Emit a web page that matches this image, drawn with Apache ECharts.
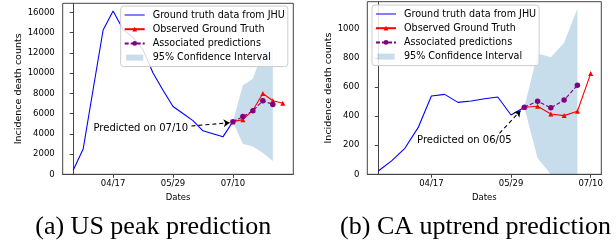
<!DOCTYPE html>
<html><head><meta charset="utf-8">
<script src="https://cdn.jsdelivr.net/npm/echarts@6/dist/echarts.min.js"></script>
<style>html,body{margin:0;padding:0;background:#fff}#c{width:616px;height:246px}</style>
</head><body><div id="c"></div>
<script>
// ---------------- data ----------------
const xTickLabels = ['04/17', '05/29', '07/10'];
const usYTicks = [0, 2000, 4000, 6000, 8000, 10000, 12000, 14000, 16000];
const caYTicks = [0, 200, 400, 600, 800, 1000];

const usTruthDates = ['03/20','03/27','04/03','04/10','04/17','04/24','05/01','05/08','05/15','05/22','05/29','06/05','06/12','06/19','06/26','07/03','07/10'];
const usTruth = [400, 2500, 8400, 14250, 16130, 14300, 13500, 12300, 10000, 8300, 6700, 6000, 5300, 4300, 4000, 3700, 5200];
const usPredDates = ['07/10','07/17','07/24','07/31','08/07'];
const usPred = [5200, 5700, 6280, 7270, 6900];
const usObsDates = ['07/10','07/17','07/24','07/31','08/07','08/14'];
const usObs = [5200, 5400, 6330, 7980, 7270, 7020];
const usCILower = [5200, 3000, 2750, 2100, 1320];
const usCIUpper = [5200, 8800, 9450, 12200, 12500];

const caTruthDates = ['03/20','03/27','04/03','04/10','04/17','04/24','05/01','05/08','05/15','05/22','05/29','06/05'];
const caTruth = [23, 92, 179, 321, 539, 550, 495, 505, 520, 532, 408, 462];
const caPredDates = ['06/05','06/12','06/19','06/26','07/03'];
const caPred = [462, 503, 458, 511, 613];
const caObsDates = ['06/05','06/12','06/19','06/26','07/03','07/10'];
const caObs = [462, 468, 415, 404, 434, 693];
const caCILower = [462, 110, 0, 0, 0];
const caCIUpper = [462, 832, 805, 905, 1142];

const seriesNames = ['Ground truth data from JHU', 'Observed Ground Truth', 'Associated predictions', '95% Confidence Interval'];
const captions = ['(a) US peak prediction', '(b) CA uptrend prediction'];
const annotTexts = ['Predicted on 07/10', 'Predicted on 06/05'];
// annotation anchors: [day since 03/20, value]
const usAnnotText = [47.4, 4540], usArrowFrom = [82.9, 4770], usArrowTo = [109.7, 5096];
const caAnnotText = [45.4, 236], caArrowFrom = [63.9, 282], caArrowTo = [75, 438];

// ---------------- helpers ----------------
const base = Date.UTC(2020, 2, 20);
function day(s) { const [m, d] = s.split('/').map(Number); return Math.round((Date.UTC(2020, m - 1, d) - base) / 86400000); }
function pairs(dates, vals) { return dates.map((d, i) => [day(d), vals[i]]); }
const xTickDays = xTickLabels.map(day);
const FONT = 'DejaVu Sans';
const AX = '#444';
const CI_FILL = 'rgba(31,119,180,0.25)';

function xAxis(gi, min, max) {
  return {
    type: 'value', gridIndex: gi, min: min, max: max,
    axisLine: { show: true, lineStyle: { color: AX, width: 1 } },
    axisTick: { show: true, customValues: xTickDays, length: 3.5, lineStyle: { color: AX } },
    axisLabel: { customValues: xTickDays, formatter: v => xTickLabels[xTickDays.indexOf(Math.round(v))] || '',
      margin: 5, fontSize: 8.5, color: '#000', fontFamily: FONT },
    splitLine: { show: false },
    name: 'Dates', nameLocation: 'middle', nameGap: 15,
    nameTextStyle: { fontSize: 8.5, color: '#000', fontFamily: FONT }
  };
}
function yAxis(gi, max, ticks, gap) {
  return {
    type: 'value', gridIndex: gi, min: 0, max: max,
    axisLine: { show: true, lineStyle: { color: AX, width: 1 } },
    axisTick: { show: true, customValues: ticks, length: 3.5, lineStyle: { color: AX } },
    axisLabel: { customValues: ticks, formatter: v => String(Math.round(v)), margin: 8, fontSize: 8.5, color: '#000', fontFamily: FONT },
    splitLine: { show: false },
    name: 'Incidence death counts', nameLocation: 'middle', nameGap: gap,
    nameTextStyle: { fontSize: 9.5, color: '#000', fontFamily: FONT }
  };
}
function ciSeries(gi, dates, lo, hi) {
  return {
    name: seriesNames[3], type: 'custom', xAxisIndex: gi, yAxisIndex: gi, z: 1, silent: true,
    itemStyle: { color: CI_FILL },
    data: dates.map((d, i) => [day(d), lo[i], hi[i]]),
    encode: { x: 0, y: [1, 2] },
    renderItem: function (params, api) {
      if (params.dataIndex !== 0) return null;
      const n = dates.length;
      const up = [], dn = [];
      for (let i = 0; i < n; i++) {
        up.push(api.coord([day(dates[i]), hi[i]]));
        dn.push(api.coord([day(dates[i]), lo[i]]));
      }
      let pts = up.concat(dn.reverse());
      const cs = params.coordSys;
      pts = echarts.graphic.clipPointsByRect(pts, { x: cs.x, y: cs.y, width: cs.width, height: cs.height });
      return { type: 'polygon', shape: { points: pts }, style: { fill: CI_FILL } };
    }
  };
}
function chartSeries(gi, tD, tV, oD, oV, pD, pV, lo, hi, annotText, txtAt, aFrom, aTo) {
  return [
    ciSeries(gi, pD, lo, hi),
    { name: seriesNames[0], type: 'line', xAxisIndex: gi, yAxisIndex: gi, data: pairs(tD, tV), symbol: 'none',
      lineStyle: { color: '#0000ff', width: 1.1 }, itemStyle: { color: '#0000ff' }, z: 3,
      markLine: { silent: true, symbol: ['none', 'arrow'], symbolSize: 6, animation: false,
        lineStyle: { color: '#000', type: [4, 3], width: 1.1 }, label: { show: false },
        data: [[{ coord: aFrom }, { coord: aTo }]] },
      markPoint: { symbol: 'circle', symbolSize: 0, animation: false, silent: true,
        label: { show: true, position: 'inside', formatter: annotText, color: '#000', fontSize: 10, fontFamily: FONT },
        data: [{ coord: txtAt }] } },
    { name: seriesNames[1], type: 'line', xAxisIndex: gi, yAxisIndex: gi, data: pairs(oD, oV),
      symbol: 'triangle', symbolSize: 5, showSymbol: true,
      lineStyle: { color: '#ff0000', width: 1.1 }, itemStyle: { color: '#ff0000' }, z: 4 },
    { name: seriesNames[2], type: 'line', xAxisIndex: gi, yAxisIndex: gi, data: pairs(pD, pV),
      symbol: 'circle', symbolSize: 5.5, showSymbol: true,
      lineStyle: { color: '#800080', width: 1.1, type: [4, 2] }, itemStyle: { color: '#800080' }, z: 5 }
  ];
}
function legend(left, top) {
  return {
    orient: 'vertical', left: left, top: top, padding: [4, 3, 4, 3],
    itemWidth: 20, itemHeight: 6, itemGap: 4.2, selectedMode: false,
    backgroundColor: 'rgba(255,255,255,0.85)', borderColor: '#cccccc', borderWidth: 1, borderRadius: 3,
    textStyle: { fontFamily: FONT, fontSize: 9.6, color: '#000', lineHeight: 10, padding: [0, 0, 0, 3] },
    data: [
      { name: seriesNames[0], icon: 'path://M0,0h20v1h-20z', itemStyle: { color: '#0000ff' } },
      { name: seriesNames[1] }, { name: seriesNames[2] },
      { name: seriesNames[3], icon: 'path://M0,0h20v7h-20z', itemStyle: { color: CI_FILL } }
    ]
  };
}

const chart = echarts.init(document.getElementById('c'), null, { renderer: 'canvas' });
chart.setOption({
  animation: false,
  backgroundColor: '#fff',
  textStyle: { fontFamily: FONT },
  grid: [
    { left: 62.7, top: 3.3, width: 230.6, height: 171, show: true, borderColor: AX, borderWidth: 1, backgroundColor: 'transparent', outerBoundsMode: 'none', containLabel: false },
    { left: 367.3, top: 1.7, width: 234, height: 172.6, show: true, borderColor: AX, borderWidth: 1, backgroundColor: 'transparent', outerBoundsMode: 'none', containLabel: false }
  ],
  xAxis: [xAxis(0, -7.35, 154.35), xAxis(1, -5.8, 117.6)],
  yAxis: [yAxis(0, 16890, usYTicks, 36), yAxis(1, 1188, caYTicks, 31)],
  legend: [legend(120.7, 6), legend(372, 5)],
  series: [
    ...chartSeries(0, usTruthDates, usTruth, usObsDates, usObs, usPredDates, usPred, usCILower, usCIUpper, annotTexts[0], usAnnotText, usArrowFrom, usArrowTo),
    ...chartSeries(1, caTruthDates, caTruth, caObsDates, caObs, caPredDates, caPred, caCILower, caCIUpper, annotTexts[1], caAnnotText, caArrowFrom, caArrowTo)
  ],
  graphic: [
    { type: 'text', x: 153.3, y: 227, style: { text: captions[0], font: '26px "Liberation Serif"', fill: '#000', align: 'center', verticalAlign: 'middle', textAlign: 'center', textVerticalAlign: 'middle' } },
    { type: 'text', x: 475.5, y: 227, style: { text: captions[1], font: '26px "Liberation Serif"', fill: '#000', align: 'center', verticalAlign: 'middle', textAlign: 'center', textVerticalAlign: 'middle' } }
  ]
});
</script></body></html>
